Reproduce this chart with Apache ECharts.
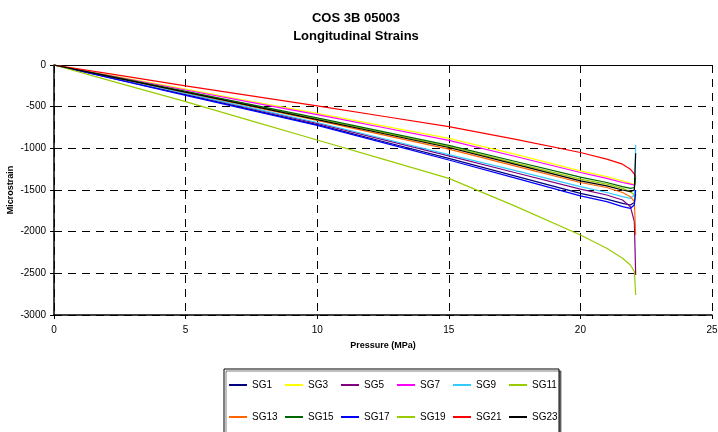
<!DOCTYPE html>
<html>
<head>
<meta charset="utf-8">
<script src="https://cdn.jsdelivr.net/npm/echarts@6/dist/echarts.min.js"></script>
<style>
  html, body { margin: 0; padding: 0; background: #fff; }
  #chart { width: 718px; height: 432px; }
</style>
</head>
<body>
<div id="chart"></div>
<script>
// pressure steps (MPa), shared by all gauges
const pressure = [0, 2.5, 5, 7.5, 10, 12.5, 15, 17.5, 20, 21, 21.6, 21.9, 22.05, 22.1]

// microstrain per gauge
const sg1  = [0, -178, -355, -535, -715, -918, -1120, -1330, -1540, -1610, -1660, -1680, -1650, -1550]
const sg3  = [0, -145, -290, -435, -580, -730, -880, -1070, -1270, -1340, -1390, -1420, -1430, -1400]
const sg5  = [0, -172, -345, -522, -700, -895, -1090, -1290, -1490, -1560, -1620, -1700, -1880, -2520]
const sg7  = [0, -150, -300, -448, -595, -750, -905, -1095, -1290, -1360, -1410, -1430, -1440, -1420]
const sg9  = [0, -170, -340, -515, -690, -882, -1075, -1265, -1460, -1530, -1580, -1600, -1560, -960]
const sg11 = [0, -160, -320, -482, -645, -812, -980, -1175, -1370, -1430, -1480, -1520, -1560, -1620]
const sg13 = [0, -165, -330, -498, -665, -838, -1010, -1210, -1410, -1470, -1530, -1580, -1640, -2040]
const sg15 = [0, -158, -315, -475, -635, -800, -965, -1155, -1345, -1410, -1460, -1480, -1470, -1350]
const sg17 = [0, -182, -365, -545, -725, -932, -1140, -1355, -1570, -1640, -1700, -1720, -1680, -1500]
const sg19 = [0, -220, -440, -670, -900, -1130, -1360, -1690, -2040, -2200, -2320, -2400, -2480, -2760]
const sg21 = [0, -125, -250, -370, -490, -615, -740, -890, -1050, -1130, -1190, -1250, -1310, -1340]
const sg23 = [0, -163, -325, -490, -655, -822, -990, -1190, -1390, -1450, -1500, -1520, -1500, -1060]

const names  = ['SG1', 'SG3', 'SG5', 'SG7', 'SG9', 'SG11', 'SG13', 'SG15', 'SG17', 'SG19', 'SG21', 'SG23']
const values = [sg1, sg3, sg5, sg7, sg9, sg11, sg13, sg15, sg17, sg19, sg21, sg23]
const colors = ['#000080', '#FFFF00', '#800080', '#FF00FF', '#33CCFF', '#99CC00',
                '#FF6600', '#006600', '#0000FF', '#99CC00', '#FF0000', '#000000']

const font = 'Liberation Sans, Arial, sans-serif'

let myChart = echarts.init(document.getElementById('chart'))
myChart.setOption({
    animation: false,
    color: colors,
    title: {
        text: 'COS 3B 05003\nLongitudinal Strains',
        left: 351,
        top: 4,
        textAlign: 'center',
        textStyle: { fontFamily: font, fontSize: 13, fontWeight: 'bold', color: '#000', lineHeight: 18 }
    },
    legend: {
        data: names,
        left: 224,
        top: 369,
        width: 330,
        orient: 'horizontal',
        padding: [3, 0, 10, 5],
        itemGap: 6,
        itemWidth: 18,
        itemHeight: 2,
        icon: 'rect',
        borderColor: '#000',
        borderWidth: 1,
        backgroundColor: '#fff',
        shadowColor: 'rgba(0,0,0,0.5)',
        shadowOffsetX: 2,
        shadowOffsetY: 2,
        textStyle: { fontFamily: font, fontSize: 10, color: '#000', width: 27, lineHeight: 26 }
    },
    grid: { left: 54, right: 6, top: 65, bottom: 117, outerBoundsMode: 'none', containLabel: false },
    xAxis: [
        {
            type: 'value',
            min: 0,
            max: 25,
            interval: 5,
            name: 'Pressure (MPa)',
            nameLocation: 'middle',
            nameGap: 26,
            nameMoveOverlap: false,
            nameTextStyle: { fontFamily: font, fontSize: 9, fontWeight: 'bold', color: '#000' },
            axisLine: { onZero: false, lineStyle: { color: '#000', width: 1.5 } },
            axisTick: { length: 4, lineStyle: { color: '#000' } },
            axisLabel: { fontFamily: font, fontSize: 10, color: '#000', margin: 10 },
            splitLine: { lineStyle: { color: '#000', type: [8, 6] } }
        },
        {
            type: 'value',
            position: 'top',
            min: 0,
            max: 25,
            axisLine: { show: true, onZero: false, lineStyle: { color: '#000', width: 1 } },
            axisTick: { show: false },
            axisLabel: { show: false },
            splitLine: { show: false }
        }
    ],
    yAxis: {
        type: 'value',
        min: -3000,
        max: 0,
        interval: 500,
        name: 'Microstrain',
        nameLocation: 'middle',
        nameGap: 39,
        nameMoveOverlap: false,
        nameTextStyle: { fontFamily: font, fontSize: 9, fontWeight: 'bold', color: '#000' },
        axisLine: { show: true, onZero: false, lineStyle: { color: '#000', width: 1.5 } },
        axisTick: { show: true, length: 4, lineStyle: { color: '#000' } },
        axisLabel: { fontFamily: font, fontSize: 10, color: '#000', margin: 8, formatter: v => String(v) },
        splitLine: { lineStyle: { color: '#000', type: [8, 6] } }
    },
    series: names.map((n, i) => ({
        name: n,
        type: 'line',
        showSymbol: false,
        symbol: 'none',
        lineStyle: { width: 1.2, color: colors[i] },
        itemStyle: { color: colors[i] },
        data: pressure.map((p, j) => [p, values[i][j]])
    }))
})
window.addEventListener('resize', function() {
    myChart.resize()
})
</script>
</body>
</html>
